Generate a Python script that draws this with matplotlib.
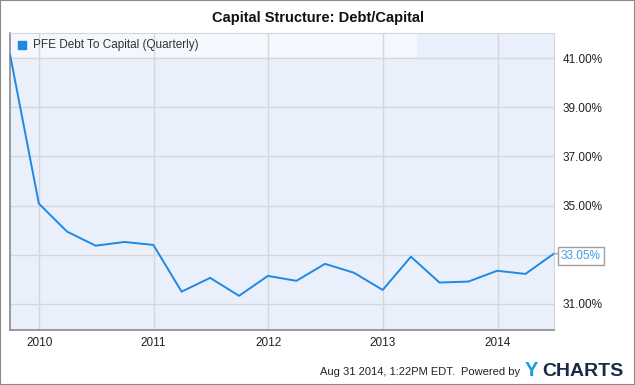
import datetime as dt
import matplotlib
matplotlib.use("Agg")
import matplotlib.pyplot as plt
import matplotlib.dates as mdates
from matplotlib.patches import Rectangle

plt.rcParams['font.family'] = ['Liberation Sans', 'DejaVu Sans']

# quarterly debt/capital values (%)
quarters = ["2009-09-30", "2009-12-31", "2010-03-31", "2010-06-30", "2010-09-30",
            "2010-12-31", "2011-03-31", "2011-06-30", "2011-09-30", "2011-12-31",
            "2012-03-31", "2012-06-30", "2012-09-30", "2012-12-31", "2013-03-31",
            "2013-06-30", "2013-09-30", "2013-12-31", "2014-03-31", "2014-06-30"]
debt_to_cap = [41.15, 35.08, 33.94, 33.37, 33.52, 33.40, 31.50, 32.06, 31.33, 32.14,
               31.94, 32.63, 32.27, 31.57, 32.92, 31.87, 31.91, 32.35, 32.22, 33.05]
y_ticks = [31, 33, 35, 37, 39, 41]
x_years = [2010, 2011, 2012, 2013, 2014]

dates = [dt.datetime.strptime(q, "%Y-%m-%d") for q in quarters]

W, H = 635, 385
fig = plt.figure(figsize=(W / 100, H / 100), dpi=100)
fig.patches.append(Rectangle((0, 0), 1, 1, transform=fig.transFigure, fill=False,
                             ec='#8a8a8a', lw=1.5))

ax = fig.add_axes([10 / W, (H - 330) / H, 544 / W, 297 / H])
ax.set_facecolor('#eaf0fb')
ax.set_xlim(dates[0], dates[-1])
ax.set_ylim(29.94, 42.02)

# legend band across top
band_frac = (417 - 10) / 544
ax.axhspan(41, 42.02, xmin=0, xmax=band_frac, color='#f4f7fd', zorder=0.5, lw=0)

ax.plot(dates, debt_to_cap, color='#1e88e5', lw=1.4, zorder=3)

# the 33% label is hidden behind the last-value callout
ax.set_yticks(y_ticks)
ax.set_yticklabels(["" if v == 33 else "%.2f%%" % v for v in y_ticks])
ax.yaxis.tick_right()
ax.set_xticks([dt.datetime(y, 1, 1) for y in x_years])
ax.xaxis.set_major_formatter(mdates.DateFormatter('%Y'))
ax.tick_params(length=0, labelsize=8.5, colors='#222222', pad=6)
ax.tick_params(axis='x', pad=5)

ax.grid(True, color='#d6d6d6', lw=1)
ax.set_axisbelow(True)
for s in ['top', 'right']:
    ax.spines[s].set_color('#d6d6d6')
for s in ['left', 'bottom']:
    ax.spines[s].set_color('#8a8a8a')
    ax.spines[s].set_linewidth(1.2)

# legend
ax.plot([0.022], [0.958], 's', ms=5.5, color='#1e88e5', transform=ax.transAxes, clip_on=False)
ax.text(0.042, 0.958, "PFE Debt To Capital (Quarterly)", transform=ax.transAxes,
        fontsize=8.5, color='#333333', va='center', ha='left')

# last value callout
ax.annotate("%.2f%%" % debt_to_cap[-1], xy=(dates[-1], debt_to_cap[-1]),
            xytext=(5, -2), textcoords='offset points', fontsize=8.5, color='#3a9ae8',
            va='center', ha='left', annotation_clip=False,
            bbox=dict(boxstyle='square,pad=0.25', fc='white', ec='#a0a0a0', lw=1),
            arrowprops=dict(arrowstyle='-', color='#a0a0a0', lw=1, shrinkA=0, shrinkB=0))

fig.text(318 / W, 1 - 18 / H, "Capital Structure: Debt/Capital", ha='center', va='center',
         fontsize=10.5, fontweight='bold', color='#111111')

fig.text(520 / W, 1 - 372 / H, "Aug 31 2014, 1:22PM EDT.  Powered by", ha='right',
         va='center', fontsize=8, color='#222222')
fig.text(525 / W, 1 - 371 / H, "Y", ha='left', va='center', fontsize=14.5,
         fontweight='bold', color='#1b9be0')
fig.text(542 / W, 1 - 371 / H, "CHARTS", ha='left', va='center', fontsize=14,
         fontweight='bold', color='#1c2a48')

fig.savefig("out.png", dpi=100)
